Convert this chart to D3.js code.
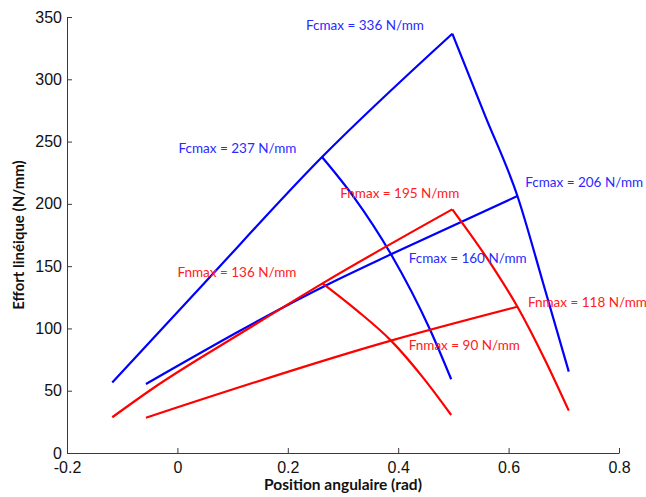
<!DOCTYPE html>
<meta charset="utf-8">
<script src="https://d3js.org/d3.v7.min.js"></script>
<style>
  body { margin: 0; background: #fff; }
</style>
<div id="chart"></div>
<script>
// values (x in rad, y in N/mm)
var blueRiseAX = [-0.118, 0.049, 0.262, 0.498];
var blueRiseAY = [56.6, 136.5, 237.6, 336.6];
var blueFallAX = [0.498, 0.557, 0.616, 0.663, 0.709];
var blueFallAY = [336.6, 271.3, 206.3, 135.7, 65.3];
var blueRiseBX = [-0.057, 0.277, 0.387, 0.616];
var blueRiseBY = [55.4, 136.3, 159.5, 206.3];
var blueFallBX = [0.262, 0.319, 0.387, 0.458, 0.496];
var blueFallBY = [237.6, 205.8, 159.5, 98.7, 59.2];

var redRiseAX = [-0.118, -0.046, 0.120, 0.263, 0.498];
var redRiseAY = [28.7, 51.4, 97.5, 136.2, 195.6];
var redFallAX = [0.498, 0.566, 0.616, 0.666, 0.709];
var redFallAY = [195.6, 153.0, 117.4, 74.7, 34.0];
var redRiseBX = [-0.057, 0.387, 0.616];
var redRiseBY = [28.3, 90.2, 117.4];
var redFallBX = [0.263, 0.325, 0.387, 0.445, 0.496];
var redFallBY = [136.2, 114.5, 90.2, 60.5, 30.5];

var labelTexts = ["Fcmax = 336 N/mm", "Fcmax = 237 N/mm", "Fnmax = 195 N/mm", "Fcmax = 206 N/mm",
                  "Fcmax = 160 N/mm", "Fnmax = 136 N/mm", "Fnmax = 118 N/mm", "Fnmax = 90 N/mm"];
var labelX = [0.233, 0.002, 0.295, 0.630, 0.419, 0.000, 0.635, 0.419];
var labelY = [339.6, 241.1, 204.9, 213.8, 152.8, 141.5, 117.4, 82.7];
var labelColor = ["blue", "blue", "red", "blue", "blue", "red", "red", "red"];

var xTicks = [-0.2, 0, 0.2, 0.4, 0.6, 0.8];
var yTicks = [0, 50, 100, 150, 200, 250, 300, 350];

var width = 646, height = 497;
var margin = {top: 17, right: 27, bottom: 44, left: 67};

var svg = d3.select("#chart").append("svg")
  .attr("width", width)
  .attr("height", height);

var x = d3.scaleLinear().domain([-0.2, 0.8]).range([margin.left, width - margin.right]);
var y = d3.scaleLinear().domain([0, 350]).range([height - margin.bottom, margin.top]);

var series = [
  {xs: blueRiseAX, ys: blueRiseAY, c: "#0000ff"},
  {xs: blueFallAX, ys: blueFallAY, c: "#0000ff"},
  {xs: blueRiseBX, ys: blueRiseBY, c: "#0000ff"},
  {xs: blueFallBX, ys: blueFallBY, c: "#0000ff"},
  {xs: redRiseAX, ys: redRiseAY, c: "#ff0000"},
  {xs: redFallAX, ys: redFallAY, c: "#ff0000"},
  {xs: redRiseBX, ys: redRiseBY, c: "#ff0000"},
  {xs: redFallBX, ys: redFallBY, c: "#ff0000"}
];

var line = d3.line()
  .x(function(d) { return x(d[0]); })
  .y(function(d) { return y(d[1]); })
  .curve(d3.curveMonotoneX);

// axes, ticks pointing inward
var xAxis = svg.append("g")
  .attr("transform", "translate(0," + (height - margin.bottom) + ")")
  .call(d3.axisBottom(x).tickValues(xTicks).tickSizeInner(-5).tickSizeOuter(0).tickPadding(9)
    .tickFormat(function(d) { return String(+d.toFixed(1)); }));

var yAxis = svg.append("g")
  .attr("transform", "translate(" + margin.left + ",0)")
  .call(d3.axisLeft(y).tickValues(yTicks).tickSizeInner(-5).tickSizeOuter(0).tickPadding(5));

[xAxis, yAxis].forEach(function(a) {
  a.select(".domain").attr("stroke", "#3a3a3a");
  a.selectAll(".tick line").attr("stroke", "#3a3a3a");
  a.selectAll(".tick text")
    .attr("fill", "#111")
    .style("font-family", "'Liberation Sans', Arial, sans-serif")
    .style("font-size", "16px");
});

svg.selectAll(".curve")
  .data(series)
  .enter()
  .append("path")
  .attr("class", "curve")
  .attr("d", function(s) { return line(d3.zip(s.xs, s.ys)); })
  .attr("fill", "none")
  .attr("stroke", function(s) { return s.c; })
  .attr("stroke-width", 2.2)
  .attr("stroke-linejoin", "miter");

svg.selectAll(".lbl")
  .data(labelTexts)
  .enter()
  .append("text")
  .attr("class", "lbl")
  .attr("x", function(d, i) { return x(labelX[i]); })
  .attr("y", function(d, i) { return y(labelY[i]); })
  .attr("fill", function(d, i) { return labelColor[i] == "blue" ? "#2a2aff" : "#ff2020"; })
  .style("font-family", "Lato, 'Open Sans', sans-serif")
  .style("font-size", "13.5px")
  .text(function(d) { return d; });

// axis titles
svg.append("text")
  .attr("x", 343)
  .attr("y", 490)
  .attr("text-anchor", "middle")
  .style("font-family", "Lato, sans-serif")
  .style("font-weight", "bold")
  .style("font-size", "15.5px")
  .attr("fill", "#111")
  .text("Position angulaire (rad)");

svg.append("text")
  .attr("transform", "translate(24,235) rotate(-90)")
  .attr("text-anchor", "middle")
  .style("font-family", "Lato, sans-serif")
  .style("font-weight", "bold")
  .style("font-size", "15px")
  .attr("fill", "#111")
  .text("Effort linéique (N/mm)");
</script>
